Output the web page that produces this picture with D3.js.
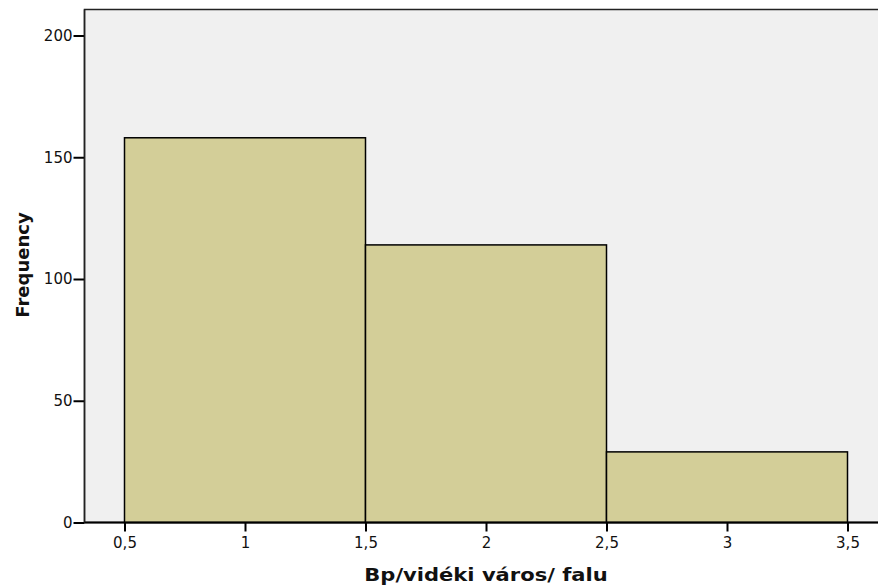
<!DOCTYPE html>
<html><head><meta charset="utf-8">
<script src="https://cdn.jsdelivr.net/npm/d3@7"></script>
<style>body{margin:0;background:#fff}svg{display:block}</style>
</head><body>
<script>
const binEdges = [0.5, 1.5, 2.5, 3.5];
const frequencies = [158, 114, 29];
const xTicks = [0.5, 1, 1.5, 2, 2.5, 3, 3.5];
const yTicks = [0, 50, 100, 150, 200];
const xLabel = "Bp/vidéki város/ falu";
const yLabel = "Frequency";

const W = 878, H = 588;
const m = {left: 84.5, top: 9.5, bottom: 522.5};
const FONT = "DejaVu Sans, Verdana, sans-serif";
const svg = d3.select("body").append("svg").attr("width", W).attr("height", H);

const x = d3.scaleLinear().domain([0.5, 3.5]).range([124.5, 847.5]);
const y = d3.scaleLinear().domain([0, 200]).range([522.5, 35.5]);

svg.append("rect").attr("x", m.left).attr("y", m.top)
  .attr("width", W - m.left + 5).attr("height", m.bottom - m.top)
  .attr("fill", "#f0f0f0").attr("stroke", "#222").attr("stroke-width", 1.5);

const bins = frequencies.map((f, i) => ({x0: binEdges[i], x1: binEdges[i + 1], f}));
svg.selectAll("rect.bar").data(bins).enter().append("rect").attr("class", "bar")
  .attr("x", d => x(d.x0)).attr("width", d => x(d.x1) - x(d.x0))
  .attr("y", d => y(d.f)).attr("height", d => y(0) - y(d.f))
  .attr("fill", "#d3ce98").attr("stroke", "#000").attr("stroke-width", 1.5);

const yAxis = svg.append("g").attr("transform", `translate(${m.left},0)`)
  .call(d3.axisLeft(y).tickValues(yTicks).tickSize(11).tickPadding(1));
const xAxis = svg.append("g").attr("transform", `translate(0,${m.bottom})`)
  .call(d3.axisBottom(x).tickValues(xTicks).tickSize(9).tickPadding(6)
    .tickFormat(d => String(d).replace(".", ",")));
[yAxis, xAxis].forEach(g => {
  g.select(".domain").remove();
  g.selectAll(".tick line").attr("stroke", "#000").attr("stroke-width", 2);
  g.selectAll(".tick text").attr("fill", "#111")
    .style("font-family", FONT).style("font-size", "15px");
});
svg.append("line").attr("x1", m.left).attr("x2", W).attr("y1", m.bottom).attr("y2", m.bottom)
  .attr("stroke", "#000").attr("stroke-width", 2);
svg.append("line").attr("x1", m.left).attr("x2", m.left).attr("y1", m.top).attr("y2", m.bottom)
  .attr("stroke", "#222").attr("stroke-width", 1.5);

svg.append("text").attr("transform", "translate(486,581) scale(1.17,1)").attr("text-anchor", "middle")
  .style("font-family", FONT).style("font-size", "18px")
  .style("font-weight", "bold").attr("fill", "#111").text(xLabel);
svg.append("text").attr("transform", "translate(29,265) rotate(-90)").attr("text-anchor", "middle")
  .style("font-family", FONT).style("font-size", "18px")
  .style("font-weight", "bold").attr("fill", "#111").text(yLabel);
</script>
</body></html>
